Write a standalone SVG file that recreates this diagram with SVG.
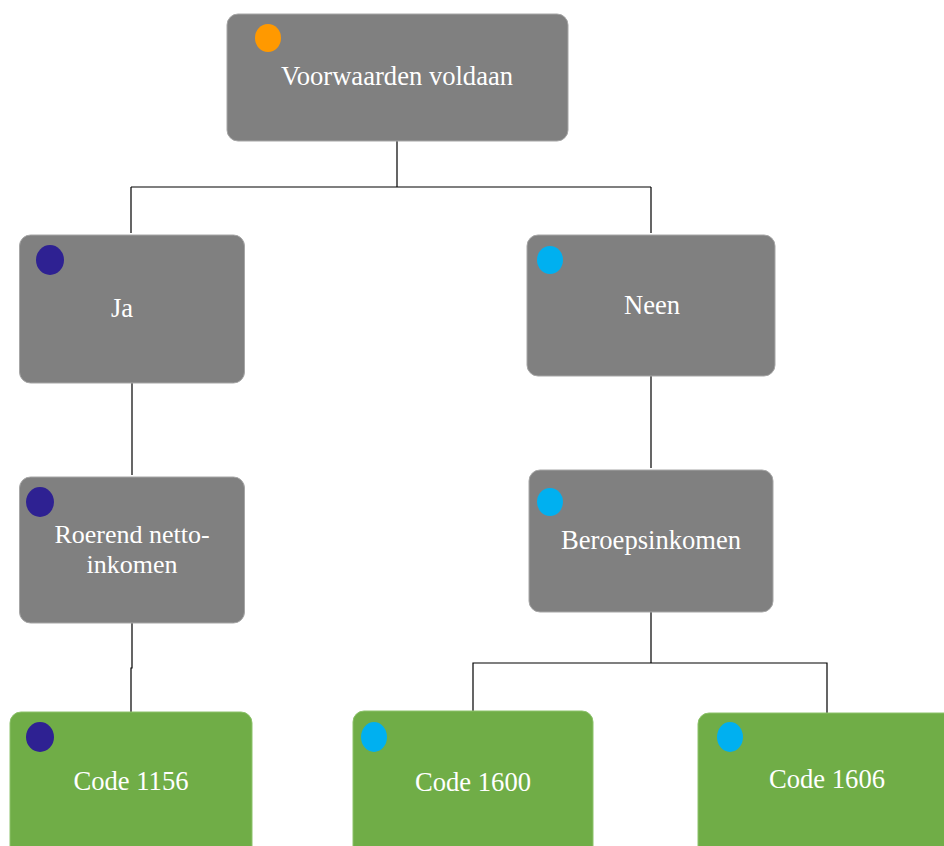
<svg xmlns="http://www.w3.org/2000/svg" width="944" height="846" viewBox="0 0 944 846">
<style>
.g{fill:#808080;stroke:#a6a6a6;stroke-width:1}
.gr{fill:#70AD47;stroke:#8cc26a;stroke-width:1}
.t{font-size:26.6px;fill:#ffffff;text-anchor:middle}
.c{fill:none;stroke:#000;stroke-width:1.2}
.o{fill:#FF9900}.b{fill:#2E2192}.y{fill:#00B0F0}
</style>
<rect width="944" height="846" fill="#fff"/>
<g id="connectors">
<path class="c" d="M397,141 V187 M131,187 H651 M131,187 V233 M651,187 V233"/>
<path class="c" d="M132,383 V475"/>
<path class="c" d="M132,623 V668 H131 V712"/>
<path class="c" d="M651,376 V468"/>
<path class="c" d="M651,612 V663 H473 V711 M651,663 H827 V713"/>
</g>
<g font-family="'Liberation Serif', 'DejaVu Serif', serif">
<g id="voorwaarden">
<rect class="g" x="227" y="14" width="341" height="127" rx="11"/>
<ellipse class="o" cx="268" cy="38" rx="13" ry="14"/>
<text class="t" x="397" y="85">Voorwaarden voldaan</text>
</g>
<g id="ja">
<rect class="g" x="19.5" y="235" width="225" height="148" rx="11"/>
<ellipse class="b" cx="50" cy="260" rx="14" ry="15"/>
<text class="t" x="122" y="317">Ja</text>
</g>
<g id="neen">
<rect class="g" x="527" y="235" width="248" height="141" rx="11"/>
<ellipse class="y" cx="550" cy="260" rx="13" ry="14"/>
<text class="t" x="652" y="314">Neen</text>
</g>
<g id="roerend">
<rect class="g" x="19.5" y="477" width="225" height="146" rx="11"/>
<ellipse class="b" cx="40" cy="502" rx="14" ry="15"/>
<text class="t" x="132" y="543" style="font-size:26px">Roerend netto-</text>
<text class="t" x="132" y="573" style="font-size:26px">inkomen</text>
</g>
<g id="beroeps">
<rect class="g" x="529" y="470" width="244" height="142" rx="11"/>
<ellipse class="y" cx="550" cy="502" rx="13" ry="14"/>
<text class="t" x="651" y="549">Beroepsinkomen</text>
</g>
<g id="code1156">
<rect class="gr" x="10" y="712" width="242" height="150" rx="11"/>
<ellipse class="b" cx="40" cy="737" rx="14" ry="15"/>
<text class="t" x="131" y="790">Code 1156</text>
</g>
<g id="code1600">
<rect class="gr" x="353" y="711" width="240" height="150" rx="11"/>
<ellipse class="y" cx="374" cy="737" rx="13" ry="15"/>
<text class="t" x="473" y="791">Code 1600</text>
</g>
<g id="code1606">
<rect class="gr" x="698" y="713" width="270" height="150" rx="11"/>
<ellipse class="y" cx="730" cy="737" rx="13" ry="15"/>
<text class="t" x="827" y="788">Code 1606</text>
</g>
</g>
</svg>
